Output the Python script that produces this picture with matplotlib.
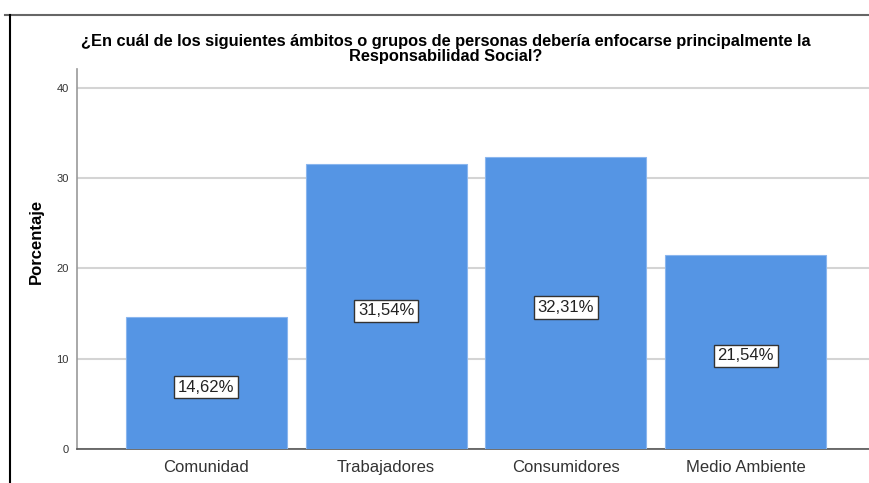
import matplotlib.pyplot as plt
from matplotlib.lines import Line2D

categories = ['Comunidad', 'Trabajadores', 'Consumidores', 'Medio Ambiente']
percentages = [14.62, 31.54, 32.31, 21.54]
bar_labels = ['14,62%', '31,54%', '32,31%', '21,54%']
y_ticks = [0, 10, 20, 30, 40]

title = ('¿En cuál de los siguientes ámbitos o grupos de personas debería enfocarse principalmente la\n'
         'Responsabilidad Social?')

plt.rcParams['font.family'] = ['Liberation Sans', 'DejaVu Sans']

fig = plt.figure(figsize=(8.7, 4.83), dpi=100)
ax = fig.add_axes([77 / 870, 34 / 483, 798 / 870, 380 / 483])

x = range(len(categories))
ax.bar(x, percentages, width=0.895, color='#5595e4', edgecolor='#8ab6ee', linewidth=0.8, zorder=3)

for i, (v, lab) in enumerate(zip(percentages, bar_labels)):
    ax.annotate(lab, (i, v / 2), xytext=(0, -3), textcoords='offset points',
                ha='center', va='center', fontsize=12, color='#222222', zorder=4,
                bbox=dict(boxstyle='square,pad=0.22', facecolor='white', edgecolor='#333333', linewidth=1))

ax.set_xlim(-0.72, 3.72)
ax.set_ylim(0, 42.1)
ax.set_yticks(y_ticks)
ax.set_yticklabels([str(t) for t in y_ticks], fontsize=8, color='#333333')
ax.set_xticks(list(x))
ax.set_xticklabels(categories, fontsize=12, color='#333333')
ax.tick_params(axis='y', length=0, pad=6)
ax.tick_params(axis='x', length=0, pad=8)
ax.grid(axis='y', color='#d4d4d4', linewidth=1.5, zorder=0)

ax.spines['top'].set_visible(False)
ax.spines['right'].set_visible(False)
ax.spines['left'].set_color('#999999')
ax.spines['left'].set_linewidth(1.2)
ax.spines['bottom'].set_color('#555555')
ax.spines['bottom'].set_linewidth(1.2)

ax.set_ylabel('Porcentaje', fontsize=12, fontweight='bold')
ax.yaxis.set_label_coords(44 / 870, 0.5, transform=fig.transFigure)

fig.text(446 / 870, 1 - 49 / 483, title, ha='center', va='center', fontsize=11.8,
         fontweight='bold', linespacing=1.05)

# outer frame left over from the report page
fig.add_artist(Line2D([5 / 870, 1], [1 - 15 / 483, 1 - 15 / 483], color='#666666', linewidth=1.5))
fig.add_artist(Line2D([10 / 870, 10 / 870], [0, 1 - 15 / 483], color='black', linewidth=1.5))

fig.savefig('out.png', dpi=100)
